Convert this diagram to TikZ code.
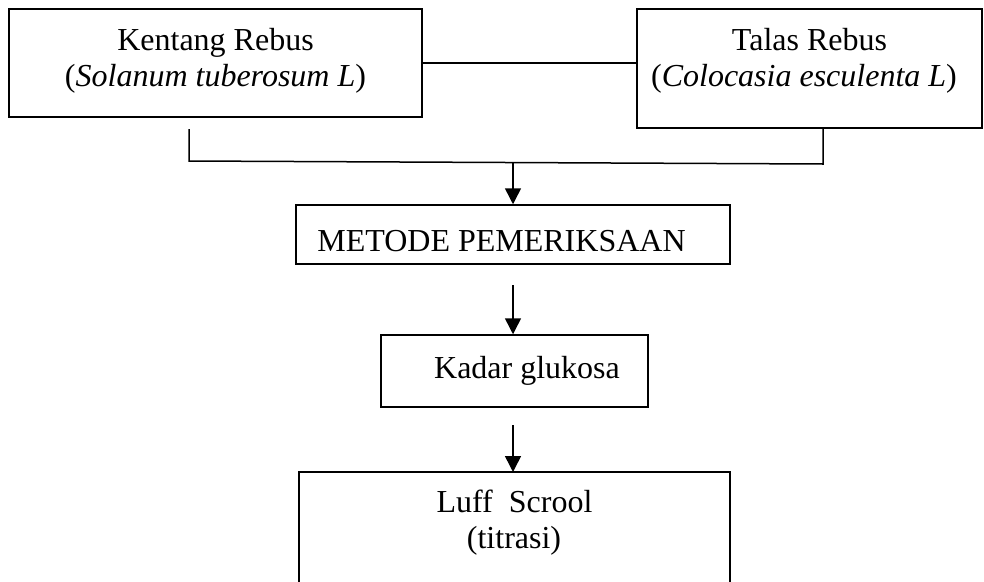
\documentclass[tikz,border=0pt]{standalone}
\usepackage{fontspec}
\setmainfont{Liberation Serif}
\usetikzlibrary{arrows.meta}
\begin{document}
\begin{tikzpicture}[x=1pt,y=-1pt,
  box/.style={draw, line width=1.5pt, inner sep=0pt, rectangle},
  txt/.style={inner sep=0pt, anchor=base, font=\fontsize{32}{36}\selectfont},
  conn/.style={line width=1.5pt},
  arr/.style={line width=1.5pt, -{Triangle[length=16pt,width=16pt]}}]
\useasboundingbox (0,0) rectangle (984,581);
% boxes
\node[box, minimum width=413pt, minimum height=108pt] (k) at (215.5,63) {};
\node[box, minimum width=345pt, minimum height=119pt] (t) at (809.5,68.5) {};
\node[box, minimum width=434pt, minimum height=59pt] (m) at (513,234.5) {};
\node[box, minimum width=267pt, minimum height=72pt] (g) at (514.5,371) {};
\draw[line width=1.5pt] (299,600) -- (299,472) coordinate (lt) -- (730,472) -- (730,600);
\coordinate (ltop) at (513,472);
% texts
\node[txt] (k1) at (215.5,50) {Kentang Rebus};
\node[txt] (k2) at (215.5,86) {(\textit{Solanum tuberosum L})};
\node[txt] (t1) at (809.5,50) {Talas Rebus};
\node[txt] (t2) at (804,86) {(\textit{Colocasia esculenta L})};
\node[txt] (m1) at (501.5,251) {METODE PEMERIKSAAN};
\node[txt] (g1) at (527,378) {Kadar glukosa};
\node[txt] (l1) at (514.5,512) {Luff\ \ Scrool};
\node[txt] (l2) at (514,548) {(titrasi)};
% connectors
\draw[conn] (k.east) -- (t.west |- k.east);
\coordinate (bl) at (189,129);
\coordinate (bc) at (189,161);
\coordinate (br) at (823,164);
\coordinate (bt) at (823,128);
\draw[conn] (bl) -- (bc) -- (br) -- (bt);
\coordinate (a1) at (513,162.5);
\draw[arr] (a1) -- (m.north);
\coordinate (a2) at (513,285);
\draw[arr] (a2) -- (g.north -| a2);
\coordinate (a3) at (513,425);
\draw[arr] (a3) -- (ltop);
\end{tikzpicture}
\end{document}
